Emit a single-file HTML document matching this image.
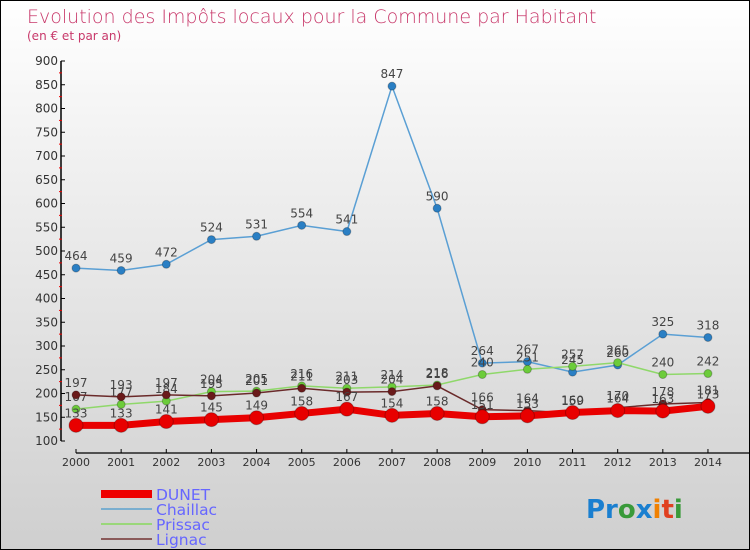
<!DOCTYPE html>
<html><head><meta charset="utf-8"><style>
body{margin:0}
#c{width:748px;height:548px;border:1px solid #000;position:relative;background:linear-gradient(#fff,#f0f0f0 30%,#cfcfcf);font-family:"DejaVu Sans","Liberation Sans",sans-serif;overflow:hidden}
</style></head><body>
<div id="c">
<svg id="s" width="748" height="548">
<text x="26" y="22" font-size="19" fill="#c8386a" font-weight="300">Evolution des Impôts locaux pour la Commune par Habitant</text>
<text x="26" y="39" font-size="12" fill="#c8386a">(en € et par an)</text>
<g id="ax"></g><g id="ser"></g>
<g>
<rect x="100" y="489" width="51" height="8" fill="#e00"/>
<text x="155" y="499" font-size="15.5" fill="#66f">DUNET</text>
<rect x="100" y="507" width="51" height="2" fill="#7aaecf"/>
<text x="155" y="514" font-size="15.5" fill="#66f">Chaillac</text>
<rect x="100" y="522" width="51" height="2" fill="#9ad77a"/>
<text x="155" y="529" font-size="15.5" fill="#66f">Prissac</text>
<rect x="100" y="537" width="51" height="2" fill="#8a5a5a"/>
<text x="155" y="544" font-size="15.5" fill="#66f">Lignac</text>
</g>
<text x="585" y="517" font-size="26" font-weight="bold"><tspan fill="#1a7fd0">Pr</tspan><tspan fill="#3a9a3a">o</tspan><tspan fill="#1a7fd0">x</tspan><tspan fill="#f08000">i</tspan><tspan fill="#e04020">t</tspan><tspan fill="#3a9a3a">i</tspan></text>
</svg></div>
<script>
const years=[2000,2001,2002,2003,2004,2005,2006,2007,2008,2009,2010,2011,2012,2013,2014];
const yTicks=[100,150,200,250,300,350,400,450,500,550,600,650,700,750,800,850,900];
const dunet=[133,133,141,145,149,158,167,154,158,151,153,160,164,163,173];
const chaillac=[464,459,472,524,531,554,541,847,590,264,267,245,260,325,318];
const prissac=[167,177,184,204,205,216,211,214,218,240,251,257,265,240,242];
const lignac=[197,193,197,195,201,211,203,204,216,166,164,159,170,178,181];
const NS="http://www.w3.org/2000/svg";
function X(i){return 75+i*45.14;}
function Y(v){return 440-(v-100)*0.475;}
function mk(t,a,p){const e=document.createElementNS(NS,t);for(const k in a)e.setAttribute(k,a[k]);p.appendChild(e);return e;}
const ax=document.getElementById('ax');
const yl=mk('line',{x1:60,y1:Y(900),x2:60,y2:Y(100),stroke:'#000','stroke-width':1.5},ax);


yTicks.forEach(v=>{
 mk('line',{x1:60,y1:Y(v),x2:64,y2:Y(v),stroke:'#000'},ax);
 mk('line',{x1:58,y1:Y(v+25),x2:61,y2:Y(v+25),stroke:v<900?'#e00':'none'},ax);
 const t=mk('text',{x:57,y:Y(v)+4,'font-size':12,fill:'#333','text-anchor':'end'},ax);
 t.textContent=v;
 
 
});
const xl=mk('line',{x1:X(0),y1:452,x2:748,y2:452,stroke:'#000','stroke-width':1.2},ax);


years.forEach((y,i)=>{
 mk('line',{x1:X(i),y1:448,x2:X(i),y2:452,stroke:'#000'},ax);
 const t=mk('text',{x:X(i),y:465,'font-size':11,fill:'#333','text-anchor':'middle'},ax);
 t.textContent=y;
 
 
});
const ser=document.getElementById('ser');
function draw(name,d,col,dot,w,r){
 const g=mk('g',{},ser);
 
 
 const l=mk('polyline',{points:d.map((v,i)=>X(i)+','+Y(v)).join(' '),fill:'none',stroke:col,'stroke-width':w},g);
 
 
 d.forEach((v,i)=>{
  const c=mk('circle',{cx:X(i),cy:Y(v),r:r,fill:dot,stroke:'rgba(0,0,0,0.25)'},g);
  
  
  const t=mk('text',{x:X(i),y:Y(v)-8,'font-size':12,fill:'#444','text-anchor':'middle'},g);
  t.textContent=v;
  
  
 });
}
draw('chaillac',chaillac,'#5a9fd4','#2a7fc4',1.5,4);
draw('prissac',prissac,'#8fd86a','#6ccc3a',1.5,4);
draw('lignac',lignac,'#6a2a2a','#6a1a1a',1.5,4);
draw('dunet',dunet,'#e80000','#e80000',7,7);
</script>
</body></html>
